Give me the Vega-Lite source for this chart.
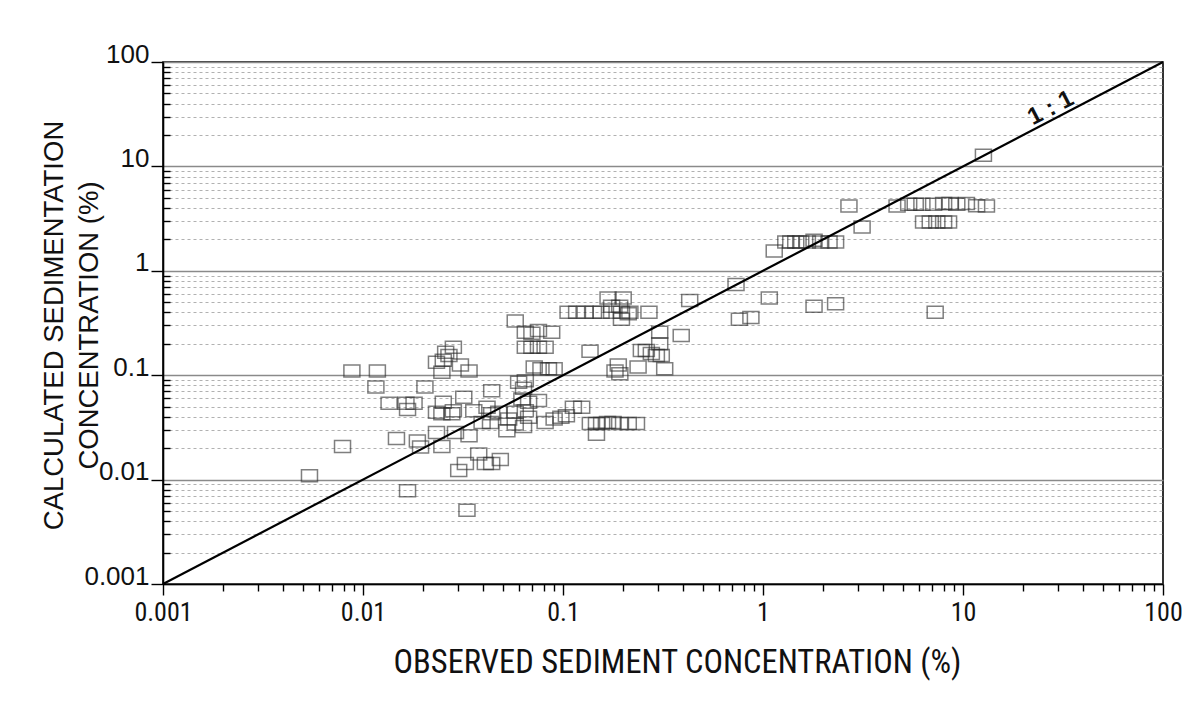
{
  "$schema": "https://vega.github.io/schema/vega-lite/v6.json",
  "autosize": {"type": "none"},
  "width": 1000,
  "height": 522,
  "padding": {"left": 163, "top": 62, "right": 40, "bottom": 127},
  "background": "#ffffff",
  "config": {
    "view": {"stroke": "#000000", "strokeWidth": 1.6},
    "axis": {"domainColor": "#000000", "domainWidth": 1.6, "tickColor": "#000000", "labelColor": "#111111", "titleColor": "#111111"}
  },
  "datasets": {
    "points": [
      {"obs": 0.0054, "calc": 0.0109}, {"obs": 0.0079, "calc": 0.0208}, {"obs": 0.0088, "calc": 0.110}, {"obs": 0.0118, "calc": 0.110},
      {"obs": 0.0116, "calc": 0.077}, {"obs": 0.0135, "calc": 0.054}, {"obs": 0.0164, "calc": 0.054}, {"obs": 0.0180, "calc": 0.054},
      {"obs": 0.0167, "calc": 0.047}, {"obs": 0.0147, "calc": 0.0248}, {"obs": 0.0187, "calc": 0.0234}, {"obs": 0.0194, "calc": 0.0205},
      {"obs": 0.0167, "calc": 0.0078}, {"obs": 0.0204, "calc": 0.077}, {"obs": 0.0331, "calc": 0.0051},
      {"obs": 0.0233, "calc": 0.133}, {"obs": 0.0252, "calc": 0.139}, {"obs": 0.0269, "calc": 0.154}, {"obs": 0.0283, "calc": 0.185},
      {"obs": 0.0259, "calc": 0.166}, {"obs": 0.0307, "calc": 0.125}, {"obs": 0.0339, "calc": 0.110}, {"obs": 0.0248, "calc": 0.107},
      {"obs": 0.0233, "calc": 0.0441}, {"obs": 0.0248, "calc": 0.0428}, {"obs": 0.0278, "calc": 0.0428}, {"obs": 0.0252, "calc": 0.055},
      {"obs": 0.0319, "calc": 0.0614}, {"obs": 0.0440, "calc": 0.0711}, {"obs": 0.0283, "calc": 0.0457}, {"obs": 0.0233, "calc": 0.0283},
      {"obs": 0.0290, "calc": 0.0283}, {"obs": 0.0339, "calc": 0.0263}, {"obs": 0.0248, "calc": 0.0208}, {"obs": 0.0358, "calc": 0.0457},
      {"obs": 0.0417, "calc": 0.0492}, {"obs": 0.0440, "calc": 0.0428}, {"obs": 0.0477, "calc": 0.0441}, {"obs": 0.0434, "calc": 0.0353},
      {"obs": 0.0394, "calc": 0.0353}, {"obs": 0.0379, "calc": 0.0176}, {"obs": 0.0409, "calc": 0.0143}, {"obs": 0.0440, "calc": 0.0143},
      {"obs": 0.0486, "calc": 0.0156}, {"obs": 0.0325, "calc": 0.0143}, {"obs": 0.0301, "calc": 0.0122},
      {"obs": 0.0524, "calc": 0.0294}, {"obs": 0.0577, "calc": 0.0341}, {"obs": 0.0635, "calc": 0.0323}, {"obs": 0.0535, "calc": 0.0381},
      {"obs": 0.0577, "calc": 0.0441}, {"obs": 0.0648, "calc": 0.0457}, {"obs": 0.0673, "calc": 0.0395}, {"obs": 0.0623, "calc": 0.0593},
      {"obs": 0.0754, "calc": 0.0571}, {"obs": 0.0673, "calc": 0.055}, {"obs": 0.0600, "calc": 0.0855}, {"obs": 0.0648, "calc": 0.0887},
      {"obs": 0.0635, "calc": 0.0749}, {"obs": 0.0718, "calc": 0.120}, {"obs": 0.0776, "calc": 0.115}, {"obs": 0.0846, "calc": 0.115},
      {"obs": 0.0903, "calc": 0.115}, {"obs": 0.0648, "calc": 0.185}, {"obs": 0.0699, "calc": 0.185}, {"obs": 0.0754, "calc": 0.185},
      {"obs": 0.0814, "calc": 0.185}, {"obs": 0.0648, "calc": 0.258}, {"obs": 0.0754, "calc": 0.268}, {"obs": 0.0878, "calc": 0.258},
      {"obs": 0.0699, "calc": 0.252}, {"obs": 0.0577, "calc": 0.331}, {"obs": 0.1365, "calc": 0.170},
      {"obs": 0.0814, "calc": 0.0353}, {"obs": 0.0903, "calc": 0.0381}, {"obs": 0.0976, "calc": 0.0395}, {"obs": 0.104, "calc": 0.041},
      {"obs": 0.1127, "calc": 0.0492}, {"obs": 0.124, "calc": 0.0492},
      {"obs": 0.137, "calc": 0.0345}, {"obs": 0.147, "calc": 0.0345}, {"obs": 0.156, "calc": 0.0345}, {"obs": 0.167, "calc": 0.0353},
      {"obs": 0.178, "calc": 0.0353}, {"obs": 0.192, "calc": 0.0345}, {"obs": 0.212, "calc": 0.0345}, {"obs": 0.233, "calc": 0.0345},
      {"obs": 0.147, "calc": 0.0272}, {"obs": 0.182, "calc": 0.110},
      {"obs": 0.106, "calc": 0.40}, {"obs": 0.117, "calc": 0.40}, {"obs": 0.129, "calc": 0.40}, {"obs": 0.142, "calc": 0.40},
      {"obs": 0.155, "calc": 0.40}, {"obs": 0.175, "calc": 0.40}, {"obs": 0.196, "calc": 0.40}, {"obs": 0.216, "calc": 0.40},
      {"obs": 0.168, "calc": 0.55}, {"obs": 0.200, "calc": 0.55}, {"obs": 0.175, "calc": 0.457}, {"obs": 0.192, "calc": 0.457},
      {"obs": 0.212, "calc": 0.388}, {"obs": 0.196, "calc": 0.343}, {"obs": 0.269, "calc": 0.40}, {"obs": 0.43, "calc": 0.52},
      {"obs": 0.733, "calc": 0.741}, {"obs": 1.075, "calc": 0.55}, {"obs": 0.762, "calc": 0.343}, {"obs": 0.87, "calc": 0.357},
      {"obs": 0.3045, "calc": 0.258}, {"obs": 0.3045, "calc": 0.200}, {"obs": 0.39, "calc": 0.24}, {"obs": 0.2465, "calc": 0.172},
      {"obs": 0.261, "calc": 0.172}, {"obs": 0.2765, "calc": 0.161}, {"obs": 0.293, "calc": 0.154}, {"obs": 0.31, "calc": 0.154},
      {"obs": 0.2374, "calc": 0.120}, {"obs": 0.189, "calc": 0.125}, {"obs": 0.1924, "calc": 0.103}, {"obs": 0.3225, "calc": 0.115},
      {"obs": 1.138, "calc": 1.545},
      {"obs": 1.30, "calc": 1.886}, {"obs": 1.377, "calc": 1.886}, {"obs": 1.458, "calc": 1.886}, {"obs": 1.544, "calc": 1.886},
      {"obs": 1.667, "calc": 1.886}, {"obs": 1.80, "calc": 1.957}, {"obs": 1.943, "calc": 1.886}, {"obs": 2.139, "calc": 1.886},
      {"obs": 2.307, "calc": 1.886},
      {"obs": 2.69, "calc": 4.17}, {"obs": 3.13, "calc": 2.63},
      {"obs": 4.68, "calc": 4.17}, {"obs": 5.35, "calc": 4.34}, {"obs": 5.77, "calc": 4.34}, {"obs": 6.23, "calc": 4.34},
      {"obs": 7.13, "calc": 4.34}, {"obs": 8.0, "calc": 4.41}, {"obs": 8.62, "calc": 4.41}, {"obs": 9.31, "calc": 4.34},
      {"obs": 10.4, "calc": 4.41}, {"obs": 11.7, "calc": 4.2}, {"obs": 13.1, "calc": 4.17},
      {"obs": 6.35, "calc": 2.93}, {"obs": 6.86, "calc": 2.93}, {"obs": 7.40, "calc": 2.93}, {"obs": 8.0, "calc": 2.93},
      {"obs": 8.47, "calc": 2.93},
      {"obs": 12.65, "calc": 12.8}, {"obs": 1.80, "calc": 0.457}, {"obs": 2.307, "calc": 0.483}, {"obs": 7.26, "calc": 0.40}
    ],
    "diag": [{"obs": 0.001, "calc": 0.001}, {"obs": 100, "calc": 100}],
    "lab": [{"obs": 27.5, "calc": 36, "text": "1 : 1"}]
  },
  "layer": [
    {
      "data": {"name": "points"},
      "mark": {"type": "point", "shape": "M-1,-0.75H1V0.75H-1Z", "size": 256, "filled": false, "stroke": "#2a2a2a", "strokeWidth": 1.5, "strokeOpacity": 0.85},
      "encoding": {
        "x": {
          "field": "obs", "type": "quantitative",
          "scale": {"type": "log", "domain": [0.001, 100], "nice": false},
          "axis": {
            "values": [0.001,0.002,0.003,0.004,0.005,0.006,0.007,0.008,0.009,0.01,0.02,0.03,0.04,0.05,0.06,0.07,0.08,0.09,0.1,0.2,0.3,0.4,0.5,0.6,0.7,0.8,0.9,1,2,3,4,5,6,7,8,9,10,20,30,40,50,60,70,80,90,100],
            "labelExpr": "abs(log(datum.value)/LN10 - round(log(datum.value)/LN10)) < 0.001 ? format(datum.value, '~g') : ''",
            "labelOverlap": false, "labelFlush": false,
            "labelFont": "Liberation Sans Narrow, Roboto Condensed, Liberation Sans",
            "labelFontSize": 26, "labelPadding": 4,
            "tickSize": {"condition": {"test": "abs(log(datum.value)/LN10 - round(log(datum.value)/LN10)) < 0.001", "value": 11}, "value": 7},
            "tickWidth": 1.4,
            "grid": false,
            "title": "OBSERVED SEDIMENT CONCENTRATION (%)",
            "titleFont": "Liberation Sans Narrow, Roboto Condensed, Liberation Sans",
            "titleFontSize": 32.5, "titleFontWeight": "normal",
            "titleX": 514, "titleY": 78, "titleBaseline": "middle", "titleAlign": "center"
          }
        },
        "y": {
          "field": "calc", "type": "quantitative",
          "scale": {"type": "log", "domain": [0.001, 100], "nice": false},
          "axis": {
            "values": [0.001,0.002,0.003,0.004,0.005,0.006,0.007,0.008,0.009,0.01,0.02,0.03,0.04,0.05,0.06,0.07,0.08,0.09,0.1,0.2,0.3,0.4,0.5,0.6,0.7,0.8,0.9,1,2,3,4,5,6,7,8,9,10,20,30,40,50,60,70,80,90,100],
            "labelExpr": "abs(log(datum.value)/LN10 - round(log(datum.value)/LN10)) < 0.001 ? format(datum.value, '~g') : ''",
            "labelOverlap": false, "labelFlush": false,
            "labelFont": "Liberation Sans, Arial, sans-serif",
            "labelFontSize": 26, "labelPadding": 2, "labelBaseline": "alphabetic",
            "tickSize": {"condition": {"test": "abs(log(datum.value)/LN10 - round(log(datum.value)/LN10)) < 0.001", "value": 12}, "value": -7},
            "tickWidth": 1.4,
            "grid": true,
            "gridColor": {"condition": {"test": "abs(log(datum.value)/LN10 - round(log(datum.value)/LN10)) < 0.001", "value": "#8a8a8a"}, "value": "#a8a8a8"},
            "gridDash": {"condition": {"test": "abs(log(datum.value)/LN10 - round(log(datum.value)/LN10)) < 0.001", "value": []}, "value": [3, 3]},
            "gridWidth": {"condition": {"test": "abs(log(datum.value)/LN10 - round(log(datum.value)/LN10)) < 0.001", "value": 1.4}, "value": 0.9},
            "title": ["CALCULATED SEDIMENTATION", "CONCENTRATION (%)"],
            "titleFont": "Liberation Sans, Arial, sans-serif",
            "titleFontSize": 27.5, "titleFontWeight": "normal", "titleLineHeight": 35,
            "titleAngle": -90, "titleX": -109, "titleY": 263, "titleBaseline": "middle", "titleAlign": "center"
          }
        }
      }
    },
    {
      "data": {"name": "diag"},
      "mark": {"type": "line", "color": "#000000", "strokeWidth": 2.2},
      "encoding": {
        "x": {"field": "obs", "type": "quantitative"},
        "y": {"field": "calc", "type": "quantitative"}
      }
    },
    {
      "data": {"name": "lab"},
      "mark": {"type": "text", "angle": -27.5, "font": "Liberation Sans, Arial, sans-serif", "fontSize": 24, "fontWeight": "bold", "color": "#111111", "align": "center", "baseline": "middle"},
      "encoding": {
        "x": {"field": "obs", "type": "quantitative"},
        "y": {"field": "calc", "type": "quantitative"},
        "text": {"field": "text"}
      }
    }
  ]
}
